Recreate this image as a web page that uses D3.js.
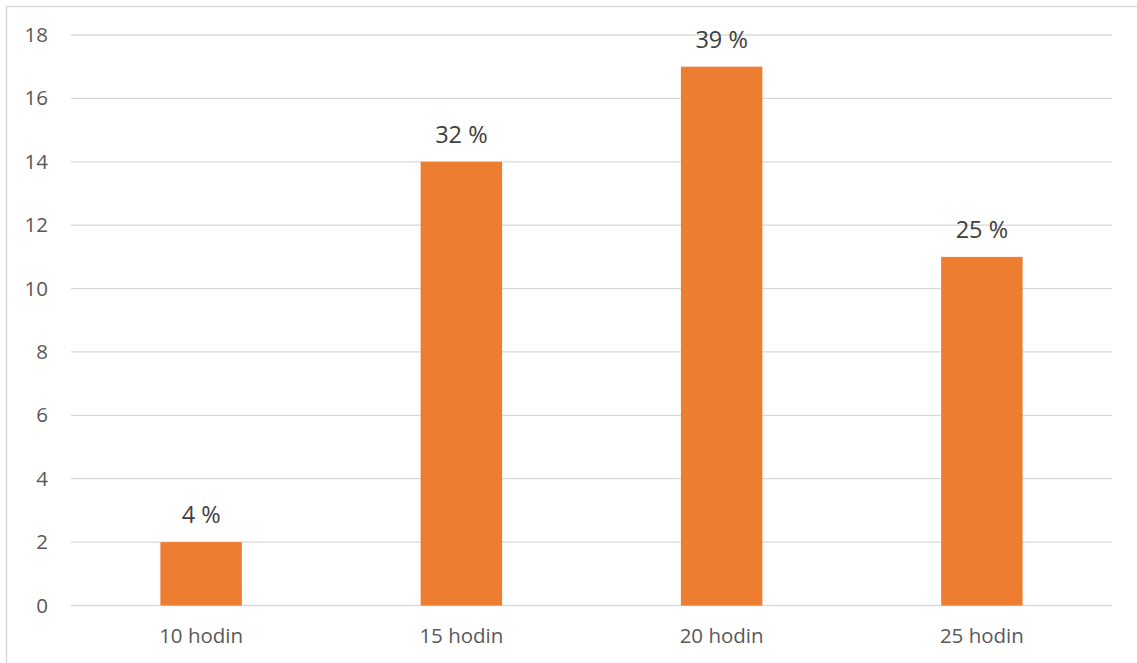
<!DOCTYPE html>
<html>
<head>
<meta charset="utf-8">
<script src="https://cdn.jsdelivr.net/npm/d3@7"></script>
<style>
  html, body { margin: 0; padding: 0; background: #fff; }
  svg { display: block; }
</style>
</head>
<body>
<svg id="chart" width="1137" height="663"></svg>
<script>
// Hours of practice and number of respondents
const categories = ["10 hodin", "15 hodin", "20 hodin", "25 hodin"];
const counts = [2, 14, 17, 11];
const percentLabels = ["4 %", "32 %", "39 %", "25 %"];
const yTicks = [0, 2, 4, 6, 8, 10, 12, 14, 16, 18];

const svg = d3.select("#chart");
const W = 1137, H = 663;
const font = "'Open Sans', 'Noto Sans', sans-serif";

// chart frame
svg.append("rect")
  .attr("x", 6.5).attr("y", 6.5)
  .attr("width", W + 10).attr("height", H + 10)
  .attr("fill", "#fff").attr("stroke", "#d9d9d9").attr("stroke-width", 1.5);

const plot = { left: 71, right: 1112, top: 35, bottom: 605.5 };

const x = d3.scaleBand()
  .domain(categories)
  .range([plot.left, plot.right])
  .paddingInner(0.687)
  .paddingOuter(0.3435);

const y = d3.scaleLinear()
  .domain([0, 18])
  .range([plot.bottom, plot.top]);

// horizontal gridlines
svg.append("g")
  .selectAll("line")
  .data(yTicks)
  .join("line")
  .attr("x1", plot.left).attr("x2", plot.right)
  .attr("y1", d => y(d)).attr("y2", d => y(d))
  .attr("stroke", "#d9d9d9").attr("stroke-width", 1.3);

// y axis labels
const yAxis = d3.axisLeft(y).tickValues(yTicks).tickSize(0).tickPadding(0);
const yg = svg.append("g").attr("transform", `translate(48,0)`).call(yAxis);
yg.select(".domain").remove();
yg.selectAll("text")
  .attr("fill", "#595959")
  .style("font-family", font)
  .style("font-size", "20.5px");

// bars
svg.append("g")
  .selectAll("rect")
  .data(counts)
  .join("rect")
  .attr("x", (d, i) => x(categories[i]))
  .attr("width", x.bandwidth())
  .attr("y", d => y(d))
  .attr("height", d => y(0) - y(d))
  .attr("fill", "#ed7d31");

// percentage labels above bars
svg.append("g")
  .selectAll("text")
  .data(counts)
  .join("text")
  .attr("x", (d, i) => x(categories[i]) + x.bandwidth() / 2)
  .attr("y", d => y(d) - 19)
  .attr("text-anchor", "middle")
  .attr("fill", "#404040")
  .style("font-family", font)
  .style("font-size", "23.5px")
  .text((d, i) => percentLabels[i]);

// x axis labels
const xAxis = d3.axisBottom(x).tickSize(0).tickPadding(0);
const xg = svg.append("g").attr("transform", `translate(0,${plot.bottom})`).call(xAxis);
xg.select(".domain").remove();
xg.selectAll("text")
  .attr("dy", null)
  .attr("y", 37)
  .attr("fill", "#595959")
  .style("font-family", font)
  .style("font-size", "20.5px");
</script>
</body>
</html>
